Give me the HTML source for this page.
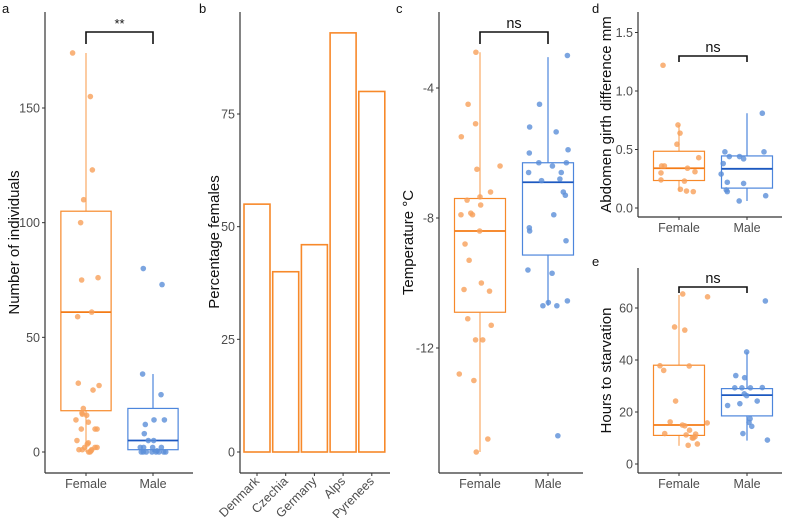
<!DOCTYPE html>
<html><head><meta charset="utf-8"><style>
html,body{margin:0;padding:0;background:#fff;}
svg{display:block;font-family:"Liberation Sans",Arial,sans-serif;}
</style></head><body>
<svg id="fig" width="787" height="518" viewBox="0 0 787 518"></svg>
<script>
// ---------- data ----------
const sexCategories = ["Female","Male"];
// panel a: number of individuals
const aFemaleVals = [174,155,123,110,100,75,76,61,59,30,29,27,19,17,16.5,16,14,13,10,10,10,5,4,3.5,2,1,2,2,1,1,0,0,0.5];
const aFemaleJit  = [-40,13,19,-7,-16,-13,36,17,-25,-23,39,21,-8,-12,-11,2,-30,7,-14,27,33,-27,7,4,-4,-21,33,27,17,-11,8,12,15];
const aMaleVals = [80,73,34,25,12,14,14,8,5,5,2,2,2,2,0,0,0,0,0,0,0,0,0.5];
const aMaleJit  = [-29,27,-31,24,-23,3,34,-26,-14,2,-38,-28,-1,25,-35,-29,-20,-3,9,18,32,38,12];
const aStats = [[0,18,61,105,174],[0,1,5,19,34]];
// panel b: percentage females
const bCountries = ["Denmark","Czechia","Germany","Alps","Pyrenees"];
const bValues = [55,40,46,93,80];
// panel c: temperature
const cFemaleVals = [-2.9,-4.5,-5.1,-5.5,-6.5,-6.4,-7.2,-7.45,-7.35,-7.6,-7.9,-7.85,-7.9,-8.4,-8.8,-9.3,-10.0,-10.2,-10.25,-11.1,-11.3,-11.75,-11.75,-12.8,-13.0,-14.8,-15.2];
const cFemaleJit  = [-12,-35,-13,-55,-9,59,31,-38,0,2,-56,-27,-22,-1,-44,-32,4,-47,28,-36,33,-13,8,-61,-18,23,-11];
const cMaleVals = [-3.0,-4.5,-5.2,-5.35,-5.9,-6.0,-6.3,-6.4,-6.3,-6.6,-6.6,-6.85,-6.8,-7.2,-7.3,-7.9,-8.3,-8.4,-8.7,-9.6,-9.7,-10.6,-10.7,-10.7,-10.55,-14.7];
const cMaleJit  = [57,-25,-54,24,59,-55,-27,13,54,-57,39,-19,35,45,51,17,-55,-54,53,-59,12,1,-15,26,57,29];
const cStats = [[-15.2,-10.9,-8.4,-7.4,-2.9],[-10.7,-9.14,-6.9,-6.3,-3.05]];
// panel d: abdomen girth difference
const dFemaleVals = [1.22,0.71,0.64,0.545,0.43,0.36,0.36,0.34,0.31,0.30,0.24,0.23,0.16,0.145,0.14];
const dFemaleJit  = [-47,-3,3,-6,58,-51,-43,25,47,-53,-53,16,4,22,42];
const dMaleVals = [0.81,0.48,0.48,0.44,0.44,0.42,0.38,0.29,0.22,0.21,0.155,0.14,0.06,0.105];
const dMaleJit  = [45,-65,50,-52,-22,-10,-70,-76,-58,-10,-61,-58,-23,55];
const dStats = [[0.14,0.235,0.34,0.485,0.71],[0.06,0.17,0.335,0.445,0.81]];
// panel e: hours to starvation
const eFemaleVals = [65.4,64.3,52.7,51.5,37.8,37.7,36,24.2,16.2,15.8,15,14.7,13,11.7,11.2,11.5,10.5,10,10,7.7,7.2];
const eFemaleJit  = [11,84,-13,17,-56,30,-45,-10,-26,83,10,17,31,-42,21,49,47,42,39,54,27];
const eMaleVals = [62.7,43.1,34,33.2,29.3,29.3,29.3,29.4,27,26.3,24.2,23.2,22.5,17.4,16,14.5,11.7,9.2];
const eMaleJit  = [54,-1,-33,-7,-36,-15,10,45,-8,-1,30,-21,-57,9,6,14,-12,60];
const eStats = [[7,11,15,38,65],[9,18.5,26.5,29,43]];

// ---------- helpers ----------
const NS="http://www.w3.org/2000/svg";
const svg=document.getElementById('fig');
function mk(tag,attrs,parent){const e=document.createElementNS(NS,tag);for(const k in attrs)e.setAttribute(k,attrs[k]);(parent||svg).appendChild(e);return e;}
function linScale(v0,p0,v1,p1){return v=>p0+(v-v0)*(p1-p0)/(v1-v0);}
const ORANGE="#f7892a", ORANGE_PT="#f8a05a", ORANGE_MED="#f47b16", ORANGE_WH="#f9a965";
const BLUE="#4d86dc", BLUE_PT="#5b8ed8", BLUE_MED="#1c58c0";

function axes(g,x0,x1,top,bottom){
  const a=mk('line',{x1:x0,y1:top,x2:x0,y2:bottom,stroke:"#333",'stroke-width':1.2},g);
  
  const b=mk('line',{x1:x0,y1:bottom,x2:x1,y2:bottom,stroke:"#333",'stroke-width':1.2},g);
  
}
function yTicks(g,x0,ys,ticks,labels){
  ticks.forEach((t,i)=>{
    const y=ys(t);
    const l=mk('line',{x1:x0-3,y1:y,x2:x0,y2:y,stroke:"#333",'stroke-width':1},g);
    
    const tx=mk('text',{x:x0-5,y:y+4.5,'text-anchor':'end','font-size':12.5,fill:"#4d4d4d"},g);
    tx.textContent=labels[i];
    
  });
}
function yTitle(g,x,yc,text){
  const t=mk('text',{x:x,y:yc,'text-anchor':'middle','font-size':15,fill:"#111",transform:`rotate(-90 ${x} ${yc})`},g);
  t.textContent=text;
  
}
function panelLetter(x,y,ch){
  const t=mk('text',{x:x,y:y,'font-size':13,fill:"#111"});
  t.textContent=ch;
  
}
function bracket(g,xa,xb,yTop,yBot,label){
  const p=mk('path',{d:`M${xa},${yBot} L${xa},${yTop} L${xb},${yTop} L${xb},${yBot}`,fill:"none",stroke:"#111",'stroke-width':1.6},g);
  
  const t=mk('text',{x:(xa+xb)/2,y:yTop-4,'text-anchor':'middle','font-size':label==="**"?13:14.5,fill:"#111"},g);
  t.textContent=label;
  
}
function boxPanel(cfg){
  const g=mk('g',{});
  
  const ys=cfg.ys;
  axes(g,cfg.x0,cfg.x1,cfg.top,cfg.bottom);
  yTicks(g,cfg.x0,ys,cfg.ticks,cfg.tickLabels);
  yTitle(g,cfg.titleX,(cfg.top+cfg.bottom)/2,cfg.title);
  const xc=i=>cfg.cx0+i*cfg.step;
  sexCategories.forEach((c,i)=>{
    const x=xc(i);
    const tk=mk('line',{x1:x,y1:cfg.bottom,x2:x,y2:cfg.bottom+3,stroke:"#333"},g);
    
    const t=mk('text',{x:x,y:cfg.bottom+15,'text-anchor':'middle','font-size':12.5,fill:"#4d4d4d"},g);
    t.textContent=c;
    
    const s=cfg.stats[i];
    const col=i===0?ORANGE:BLUE, med=i===0?ORANGE_MED:BLUE_MED, wh=i===0?ORANGE_WH:BLUE;
    const hw=cfg.step*0.375;
    const w1=mk('line',{x1:x,y1:ys(s[0]),x2:x,y2:ys(s[1]),stroke:wh,'stroke-width':1.2},g);
    
    const w2=mk('line',{x1:x,y1:ys(s[3]),x2:x,y2:ys(s[4]),stroke:wh,'stroke-width':1.2},g);
    
    const r=mk('rect',{x:x-hw,y:ys(s[3]),width:2*hw,height:ys(s[1])-ys(s[3]),fill:"none",stroke:col,'stroke-width':1.2},g);
    
    const m=mk('line',{x1:x-hw,y1:ys(s[2]),x2:x+hw,y2:ys(s[2]),stroke:med,'stroke-width':1.8},g);
    
    const vals=i===0?cfg.fVals:cfg.mVals, jit=i===0?cfg.fJit:cfg.mJit;
    vals.forEach((v,k)=>{
      const p=mk('circle',{cx:x+jit[k]/200*cfg.step,cy:ys(v),r:2.8,fill:i===0?ORANGE_PT:BLUE_PT,'fill-opacity':0.8},g);
      
    });
  });
  bracket(g,xc(0),xc(1),cfg.brTop,cfg.brBot,cfg.sig);
}

// ---------- panel a ----------
panelLetter(2,13,'a');
boxPanel({name:'panel-a-individuals',x0:45,x1:193,top:12,bottom:473,ys:linScale(0,452,150,108),
  ticks:[0,50,100,150],tickLabels:["0","50","100","150"],titleX:19,title:"Number of individuals",
  cx0:86,step:67,stats:aStats,fVals:aFemaleVals,fJit:aFemaleJit,mVals:aMaleVals,mJit:aMaleJit,
  brTop:32,brBot:44,sig:"**"});

// ---------- panel b ----------
panelLetter(199,13,'b');
(function(){
  const g=mk('g',{});
  
  const ys=linScale(0,452,75,114);
  axes(g,240,390,12,473);
  yTicks(g,240,ys,[0,25,50,75],["0","25","50","75"]);
  yTitle(g,219,242,"Percentage females");
  const step=28.7, cx=i=>257+i*step;
  bCountries.forEach((c,i)=>{
    const x=cx(i);
    const r=mk('rect',{x:x-13,y:ys(bValues[i]),width:26,height:ys(0)-ys(bValues[i]),fill:"#fff",stroke:ORANGE,'stroke-width':1.6},g);
    
    const tk=mk('line',{x1:x,y1:473,x2:x,y2:476,stroke:"#333"},g);
    
    const t=mk('text',{x:x+3,y:482,'text-anchor':'end','font-size':12.5,fill:"#4d4d4d",transform:`rotate(-45 ${x+3} 482)`},g);
    t.textContent=c;
    
  });
})();

// ---------- panel c ----------
panelLetter(396,13,'c');
boxPanel({name:'panel-c-temperature',x0:439,x1:583,top:12,bottom:473,ys:linScale(-4,88,-8,218),
  ticks:[-12,-8,-4],tickLabels:["-12","-8","-4"],titleX:413,title:"Temperature °C",
  cx0:480,step:68,stats:cStats,fVals:cFemaleVals,fJit:cFemaleJit,mVals:cMaleVals,mJit:cMaleJit,
  brTop:32,brBot:44,sig:"ns"});

// ---------- panel d ----------
panelLetter(592,13,'d');
boxPanel({name:'panel-d-abdomen',x0:638,x1:782,top:12,bottom:217,ys:linScale(0,208,1,91),
  ticks:[0,0.5,1,1.5],tickLabels:["0.0","0.5","1.0","1.5"],titleX:611,title:"Abdomen girth difference mm",
  cx0:679,step:68,stats:dStats,fVals:dFemaleVals,fJit:dFemaleJit,mVals:dMaleVals,mJit:dMaleJit,
  brTop:56,brBot:62,sig:"ns"});

// ---------- panel e ----------
panelLetter(592,266,'e');
boxPanel({name:'panel-e-starvation',x0:638,x1:782,top:268,bottom:473,ys:linScale(0,464,60,308),
  ticks:[0,20,40,60],tickLabels:["0","20","40","60"],titleX:611,title:"Hours to starvation",
  cx0:679,step:68,stats:eStats,fVals:eFemaleVals,fJit:eFemaleJit,mVals:eMaleVals,mJit:eMaleJit,
  brTop:287,brBot:293,sig:"ns"});
</script>
</body></html>
